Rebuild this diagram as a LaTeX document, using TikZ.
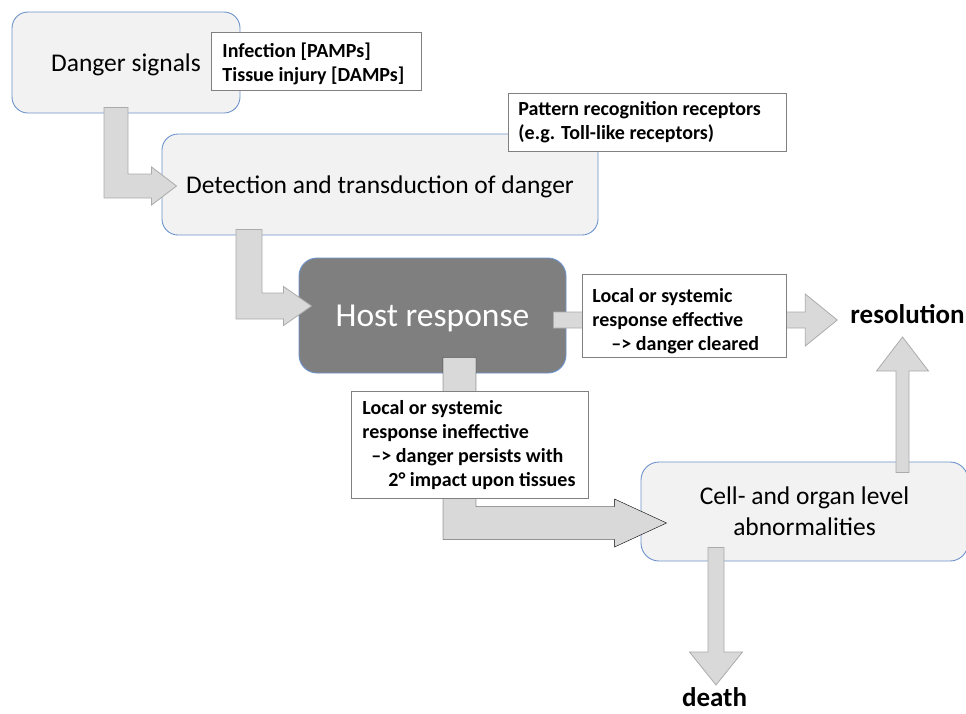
\documentclass[tikz,border=0pt]{standalone}
\usepackage{fontspec}
\setmainfont{Carlito}
\usetikzlibrary{calc}

\definecolor{boxfill}{HTML}{F2F2F2}
\definecolor{boxblue}{HTML}{6E93CC}
\definecolor{hostfill}{HTML}{7F7F7F}
\definecolor{labelgray}{HTML}{808080}
\definecolor{arrowfill}{HTML}{D9D9D9}
\definecolor{arrowline}{HTML}{ABABAB}

% down, then right
\newcommand{\bentarrow}[6][]{%
  \draw[#1] let \p1=(#2), \p2=(#3) in
    ({\x1-#4},\y1) -- ({\x1+#4},\y1) -- ({\x1+#4},{\y2+#4})
    -- ({\x2-#6},{\y2+#4}) -- ({\x2-#6},{\y2+#5}) -- (\p2)
    -- ({\x2-#6},{\y2-#5}) -- ({\x2-#6},{\y2-#4}) -- ({\x1-#4},{\y2-#4}) -- cycle;}
% to the right
\newcommand{\rightarrowbox}[6][]{%
  \draw[#1] let \p1=(#2), \p2=(#3) in
    (\x1,{\y1+#4}) -- ({\x2-#6},{\y1+#4}) -- ({\x2-#6},{\y1+#5}) -- (\x2,\y1)
    -- ({\x2-#6},{\y1-#5}) -- ({\x2-#6},{\y1-#4}) -- (\x1,{\y1-#4}) -- cycle;}
% up or down
\newcommand{\vertarrowbox}[6][]{%
  \draw[#1] let \p1=(#2), \p2=(#3), \n1={sign(\y2-\y1)} in
    ({\x1-#4},\y1) -- ({\x1-#4},{\y2-\n1*#6}) -- ({\x1-#5},{\y2-\n1*#6}) -- (\x1,\y2)
    -- ({\x1+#5},{\y2-\n1*#6}) -- ({\x1+#4},{\y2-\n1*#6}) -- ({\x1+#4},\y1) -- cycle;}

\begin{document}
\begin{tikzpicture}
      [x = 1pt, y = -1pt,
      roundbox/.style= {
         draw = boxblue,
         fill = boxfill,
         line width = 0.9pt,
         rounded corners = 16pt,
         align = center,
         font = \fontsize{25.5}{31}\selectfont
      },
      labelbox/.style= {
         draw = labelgray,
         fill = white,
         line width = 0.9pt,
         anchor = north west,
         align = flush left,
         inner xsep = 10pt,
         inner ysep = 0pt,
         font = \bfseries\fontsize{20}{24}\selectfont
      },
      endlabel/.style= {
         inner sep = 0pt,
         anchor = base,
         font = \bfseries\fontsize{27}{32}\selectfont
      },
      arrowbox/.style= {
         fill = arrowfill,
         draw = arrowline,
         line width = 0.8pt
      }]

      \useasboundingbox (0, 0) rectangle (966, 713);

      \node[roundbox, text depth = 0pt, minimum width = 228pt, minimum height = 101pt] (danger) at (126, 62.5) {Danger signals};
      \node[roundbox, text depth = 0pt, minimum width = 436pt, minimum height = 101pt] (detect) at (380, 184.5) {Detection and transduction of danger};
      \node[roundbox, fill = hostfill, text = white, rounded corners = 18pt, text depth = 0pt,
            minimum width = 267pt, minimum height = 115pt,
            font = \fontsize{33.5}{40}\selectfont] (host) at (432.5, 315.5) {Host response};
      \node[roundbox, rounded corners = 18pt, minimum width = 327pt, minimum height = 99pt] (cell) at (804.5, 511.5) {Cell- and organ level\\abnormalities};

      \node[endlabel] (resol) at (907.5, 323) {resolution};
      \node[endlabel] (death) at (714.5, 706) {death};

      \bentarrow[arrowbox]{$(danger.south) + (-10, -6)$}{$(detect.west) + (15, 1.5)$}{12pt}{19pt}{25pt}
      \bentarrow[arrowbox]{$(detect.south) + (-131, -6)$}{$(host.west) + (13, -9.5)$}{13pt}{19.5pt}{28pt}
      \rightarrowbox[arrowbox]{$(host.east) + (-13, 4.5)$}{$(resol.base west) + (-13, -3)$}{8pt}{26pt}{32pt}
      \bentarrow[fill = arrowfill]{$(host.south) + (27, -16)$}{$(cell.west) + (26, 11.5)$}{16.5pt}{24pt}{52pt}
      \vertarrowbox[arrowbox]{$(cell.north) + (98, 11)$}{$(resol.base) + (-5, 14)$}{6.5pt}{26pt}{34pt}
      \vertarrowbox[arrowbox]{$(cell.south) + (-88.5, -14)$}{$(death.base) + (1.5, -21)$}{8pt}{26.5pt}{33pt}

      \node[labelbox, inner xsep = 11pt, text width = 188pt, minimum height = 58pt] (infect) at (211, 32)
         {\rule{0pt}{20pt}Infection [PAMPs]\\Tissue injury [DAMPs]};
      \node[labelbox, text width = 258pt, minimum height = 58pt] (prr) at (508, 93)
         {Pattern recognition receptors\\(e.g. Toll-like receptors)};
      \node[labelbox, text width = 184pt, minimum height = 83pt] (effect) at (582, 274)
         {\rule{0pt}{24pt}Local or systemic\\response effective\\\hspace*{19pt}\mbox{–> danger cleared}};
      \node[labelbox, inner xsep = 11pt, text width = 215pt, minimum height = 107pt] (ineffect) at (351, 391)
         {Local or systemic\\response ineffective\\\hspace*{9pt}\mbox{–> danger persists with}\\\hspace*{26pt}\mbox{2° impact upon tissues}};

   \end{tikzpicture}
\end{document}
